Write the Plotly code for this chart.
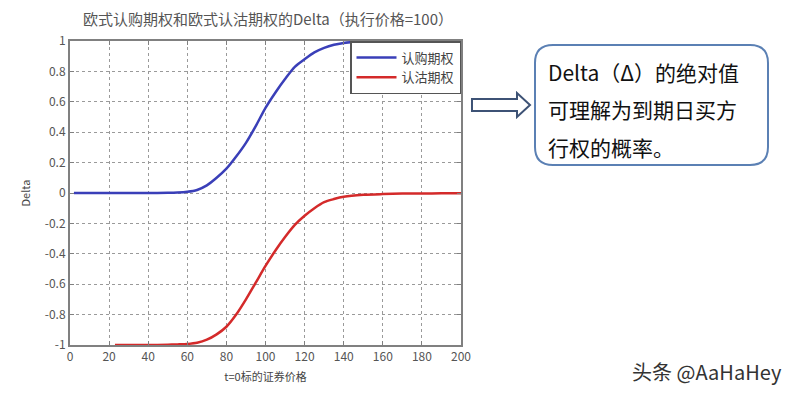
import plotly.graph_objects as go

# ---- data ----
call_x = [2, 10, 20, 30, 40, 50, 55, 60, 65, 70, 75, 80, 85, 90, 95, 100, 105, 110,
          115, 120, 125, 130, 135, 140, 145, 150, 155]
call_delta = [0.0, 0.0, 0.0, 0.0, 0.0, 0.001, 0.003, 0.008, 0.02, 0.05, 0.10, 0.16, 0.24,
              0.33, 0.44, 0.56, 0.66, 0.75, 0.83, 0.88, 0.925, 0.955, 0.975, 0.987, 0.994,
              0.998, 1.0]
put_x = [23, 30, 40, 50, 55, 60, 65, 70, 75, 80, 85, 90, 95, 100, 105, 110, 115, 120,
         125, 130, 135, 140, 150, 160, 170, 180, 190, 200]
put_delta = [-1.0, -1.0, -1.0, -0.998, -0.996, -0.993, -0.985, -0.965, -0.93, -0.88, -0.80,
             -0.70, -0.59, -0.48, -0.38, -0.29, -0.21, -0.15, -0.10, -0.06, -0.04, -0.025,
             -0.012, -0.007, -0.004, -0.003, -0.002, -0.001]
x_ticks = [0, 20, 40, 60, 80, 100, 120, 140, 160, 180, 200]
y_ticks = [-1, -0.8, -0.6, -0.4, -0.2, 0, 0.2, 0.4, 0.6, 0.8, 1]
y_tick_text = ["-1", "-0.8", "-0.6", "-0.4", "-0.2", "0", "0.2", "0.4", "0.6", "0.8", "1"]
title_text = "欧式认购期权和欧式认沽期权的Delta（执行价格=100）"
x_title = "t=0标的证券价格"
y_title = "Delta"
names = ["认购期权", "认沽期权"]
note_lines = ["Delta（Δ）的绝对值", "可理解为到期日买方", "行权的概率。"]
watermark = "头条 @AaHaHey"

W, H = 796, 395
L, R, T, B = 70, 461, 41, 345
PW, PH = R - L, B - T


def px(x):
    return (x - L) / PW


def py(y):
    return (B - y) / PH


CJK = "Noto Sans CJK SC, Noto Sans, sans-serif"

fig = go.Figure()
fig.add_trace(go.Scatter(x=call_x, y=call_delta, mode="lines", name=names[0],
                         line=dict(color="#3a3fb8", width=2.5, shape="spline", smoothing=0.8),
                         cliponaxis=False))
fig.add_trace(go.Scatter(x=put_x, y=put_delta, mode="lines", name=names[1],
                         line=dict(color="#d42a2a", width=2.5, shape="spline", smoothing=0.8),
                         cliponaxis=False))

axis_common = dict(showgrid=True, gridcolor="#9a9a9a", griddash="dot", gridwidth=1,
                   showline=True, linecolor="#808080", linewidth=2, mirror="ticks",
                   ticks="inside", ticklen=4, tickcolor="#808080", zeroline=False,
                   tickfont=dict(family=CJK, size=12, color="#555"))

fig.update_layout(
    width=W, height=H,
    margin=dict(l=L, r=W - R, t=T, b=H - B),
    paper_bgcolor="white", plot_bgcolor="white",
    title=dict(text=title_text, x=268 / W, xanchor="center",
               y=1 - 20 / H, yanchor="middle",
               font=dict(family=CJK, size=15, color="#555")),
    xaxis=dict(range=[0, 200], tickvals=x_ticks, **axis_common,
               title=dict(text=x_title, standoff=10,
                          font=dict(family=CJK, size=11, color="#444"))),
    yaxis=dict(range=[-1, 1], tickvals=y_ticks, ticktext=y_tick_text, **axis_common,
               title=dict(text=y_title, standoff=12,
                          font=dict(family=CJK, size=11, color="#444"))),
    legend=dict(x=1, xanchor="right", y=1, yanchor="top", bgcolor="white",
                bordercolor="#555", borderwidth=1.5,
                font=dict(family=CJK, size=13, color="#444"), tracegroupgap=0,
                itemwidth=40),
    showlegend=True,
)

# hollow block arrow
ax = [472, 517, 517, 530, 517, 517, 472]
ay = [99, 99, 93, 105, 117, 111, 111]
path = "M " + " L ".join(f"{px(a):.4f},{py(b):.4f}" for a, b in zip(ax, ay)) + " Z"
fig.add_shape(type="path", xref="paper", yref="paper", path=path,
              line=dict(color="#3d5275", width=2), fillcolor="white")

# rounded box
x0, x1, y0, y1, r = 535, 768, 45, 165, 18
pts = (f"M {px(x0 + r)},{py(y0)} L {px(x1 - r)},{py(y0)} Q {px(x1)},{py(y0)} {px(x1)},{py(y0 + r)} "
       f"L {px(x1)},{py(y1 - r)} Q {px(x1)},{py(y1)} {px(x1 - r)},{py(y1)} "
       f"L {px(x0 + r)},{py(y1)} Q {px(x0)},{py(y1)} {px(x0)},{py(y1 - r)} "
       f"L {px(x0)},{py(y0 + r)} Q {px(x0)},{py(y0)} {px(x0 + r)},{py(y0)} Z")
fig.add_shape(type="path", xref="paper", yref="paper", path=pts,
              line=dict(color="#5b80b4", width=2), fillcolor="white")

for i, line in enumerate(note_lines):
    fig.add_annotation(xref="paper", yref="paper", x=px(546), y=py(72 + i * 37.5),
                       xanchor="left", yanchor="middle", text=line, showarrow=False,
                       font=dict(family=CJK, size=21, color="#111"))

fig.add_annotation(xref="paper", yref="paper", x=px(784), y=py(371), xanchor="right",
                   yanchor="middle", text=watermark, showarrow=False,
                   font=dict(family=CJK, size=20, color="#333"))

fig.write_html("out.html", config={"displayModeBar": False},
               post_script="document.body.style.margin='0';document.body.style.overflow='hidden';")
